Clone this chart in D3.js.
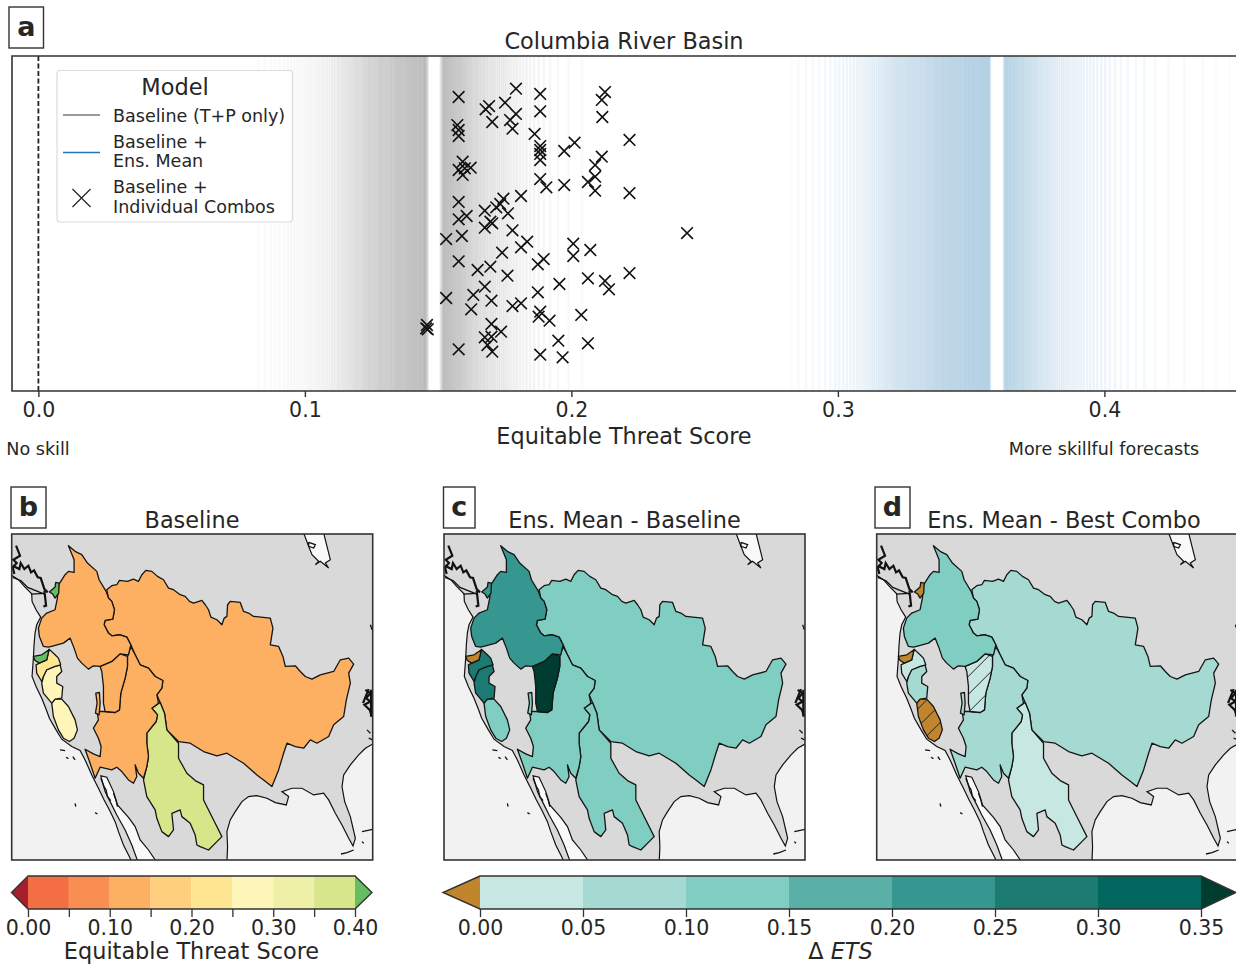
<!DOCTYPE html>
<html>
  <head>
    <meta charset="utf-8">
    <style>
      html, body { margin: 0; padding: 0; background: #fff; overflow: hidden; }
      svg { display: block; }
      text { font-family: "DejaVu Sans", sans-serif; fill: #262626; }
      .axis text { font-family: "DejaVu Sans", sans-serif; fill: #262626; }
    </style>
  </head>
  <body>
    <script src="https://d3js.org/d3.v7.min.js"></script>
    <div id="chart"></div>
    <script>
      // ---- panel a: equitable threat score of each model ----
      var baselineEts = [
        .0826,.0850,.0871,.0889,.0905,.0921,.0936,.0948,.0960,.0971,.0982,.0993,.1003,.1012,.1021,.1029,.1038,.1046,.1053,.1061,
        .1068,.1075,.1082,.1089,.1096,.1102,.1108,.1114,.1120,.1125,.1130,.1136,.1141,.1146,.1151,.1156,.1161,.1165,.1170,.1174,
        .1179,.1183,.1187,.1191,.1195,.1199,.1203,.1207,.1211,.1215,.1219,.1223,.1226,.1230,.1234,.1237,.1241,.1244,.1248,.1251,
        .1255,.1258,.1262,.1265,.1268,.1272,.1275,.1278,.1281,.1284,.1287,.1290,.1293,.1296,.1299,.1302,.1305,.1308,.1311,.1314,
        .1317,.1320,.1323,.1325,.1328,.1331,.1334,.1336,.1339,.1342,.1344,.1347,.1349,.1352,.1354,.1357,.1359,.1362,.1364,.1367,
        .1369,.1372,.1374,.1377,.1379,.1382,.1384,.1386,.1389,.1391,.1393,.1396,.1398,.1400,.1403,.1405,.1407,.1409,.1412,.1414,
        .1416,.1418,.1421,.1423,.1425,.1427,.1430,.1432,.1434,.1436,.1438,.1441,.1443,.1445,.1447,.1449,.1451,.1453,.1455,.1458,.1461,
        .1510,.1513,.1517,.1519,.1521,.1523,.1525,.1527,.1529,.1532,.1534,.1536,.1538,.1541,.1543,.1545,.1548,.1550,.1552,.1555,.1557,.1560,
        .1562,.1565,.1567,.1570,.1573,.1575,.1578,.1581,.1584,.1586,.1589,.1592,.1595,.1598,.1601,.1604,.1607,.1611,.1614,.1617,
        .1621,.1624,.1628,.1632,.1636,.1640,.1644,.1648,.1653,.1657,.1662,.1667,.1672,.1677,.1682,.1688,.1694,.1700,.1706,.1712,
        .1719,.1726,.1733,.1741,.1749,.1757,.1766,.1775,.1785,.1795,.1806,.1818,.1831,.1845,.1860,.1877,.1896,.1920,.1950,.1990,.2040
      ];
      var ensMeanEts = [
        .2825,.2852,.2880,.2905,.2930,.2952,.2972,.2990,.3005,.3020,.3034,.3047,.3060,.3072,.3083,.3093,.3103,.3112,.3120,.3128,
        .3135,.3142,.3149,.3155,.3161,.3167,.3173,.3178,.3183,.3188,.3193,.3198,.3203,.3207,.3212,.3216,.3220,.3224,.3228,.3232,
        .3236,.3240,.3244,.3248,.3252,.3256,.3260,.3264,.3267,.3271,.3275,.3278,.3282,.3286,.3289,.3293,.3296,.3300,.3303,.3307,
        .3310,.3313,.3317,.3320,.3323,.3327,.3330,.3333,.3336,.3339,.3342,.3345,.3348,.3351,.3354,.3357,.3360,.3363,.3366,.3369,
        .3371,.3374,.3377,.3380,.3383,.3385,.3388,.3391,.3393,.3396,.3399,.3401,.3404,.3407,.3409,.3412,.3414,.3417,.3420,.3422,
        .3425,.3427,.3430,.3432,.3435,.3437,.3440,.3442,.3445,.3447,.3450,.3452,.3455,.3457,.3460,.3462,.3464,.3467,.3469,.3472,
        .3474,.3476,.3479,.3481,.3483,.3486,.3488,.3490,.3493,.3495,.3497,.3500,.3502,.3504,.3507,.3509,.3511,.3513,.3516,.3518,
        .3520,.3523,.3525,.3527,.3529,.3532,.3534,.3536,.3538,.3541,.3543,.3545,.3547,.3549,.3552,.3554,.3556,.3558,.3560,.3563,
        .3565,.3567,.3569,.3571,
        .3623,.3625,.3628,.3630,.3632,.3635,.3637,.3640,.3642,.3645,.3647,.3650,.3652,.3655,.3658,.3660,.3663,.3666,.3668,.3671,
        .3674,.3677,.3680,.3683,.3686,.3689,.3692,.3695,.3698,.3701,.3705,.3708,.3711,.3715,.3718,.3722,.3725,.3729,.3733,.3737,
        .3741,.3745,.3749,.3754,.3758,.3763,.3767,.3772,.3777,.3782,.3787,.3792,.3798,.3803,.3809,.3815,.3821,.3828,.3835,.3842,
        .3849,.3857,.3865,.3874,.3883,.3892,.3902,.3912,.3923,.3935,.3947,.3960,.3973,.3988,.4003,.4020,.4040,.4062,.4088,.4118,
        .4150,.4190,.4240,.4300,.4370,.4420,.4470
      ];
      // individual combos: ETS, and the vertical jitter (0 bottom, 1 top)
      var comboEts = [
        .1577,.1792,.1883,.2126,.2114,.1691,.1678,.1751,.1883,.1792,.1770,.1703,.2116,.1572,.1577,.1577,.1779,.1862,.1883,.1883,
        .1883,.1883,.2012,.1973,.2114,.1592,.1577,.1600,.1622,.1592,.2089,.2089,.1883,.1906,.1973,.2062,.2089,.1811,.1745,.1577,
        .1733,.1718,.1675,.1762,.1607,.1577,.1696,.1703,.1675,.1779,.1589,.1530,.1834,.1811,.2007,.2007,.2071,.1896,.1874,.1740,
        .1577,.1648,.1696,.1760,.1955,.2062,.2126,.2141,.1675,.1632,.1530,.1874,.1700,.1624,.1779,.1811,.1883,.1877,.1918,.2037,
        .1458,.1455,.1461,.1700,.1736,.1675,.1700,.1685,.1951,.2062,.1577,.1703,.1883,.1967,.2218,.2218,.2434,.2218
      ];
      var comboJitter = [
        .8776,.9025,.8866,.8925,.8687,.8507,.8408,.8607,.8348,.8269,.8089,.8030,.8179,.7940,.7791,.7612,.7831,.7672,.7313,.7194,
        .7075,.6895,.7413,.7164,.6995,.6846,.6597,.6647,.6667,.6448,.6746,.6398,.6328,.6080,.6149,.6239,.5980,.5821,.5741,.5642,
        .5582,.5483,.5383,.5304,.5224,.5124,.5055,.5005,.4876,.4796,.4627,.4537,.4458,.4289,.4398,.4030,.4209,.3940,.3781,.4129,
        .3871,.3612,.3712,.3443,.3194,.3363,.3284,.3035,.3115,.2866,.2776,.2945,.2697,.2438,.2537,.2617,.2368,.2219,.2100,.2269,
        .1970,.1871,.1841,.2000,.1771,.1602,.1622,.1373,.1503,.1423,.1244,.1174,.1085,.1005,.7493,.5910,.4716,.3522
      ];
      var etsTicks = [0, 0.1, 0.2, 0.3, 0.4];

      // ---- maps: score per basin for the three panels ----
      var basinNames = ["Mississippi", "Rio Grande", "Colorado", "Green", "Columbia", "Puget", "San Joaquin", "Sacramento", "Trinity", "Klamath", "Sevier"];
      var baselineScore = [0.12, 0.37, 0.12, 0.12, 0.12, 0.42, 0.27, 0.27, 0.22, 0.42, 0.12];
      var meanMinusBaseline = [0.12, 0.12, 0.12, 0.37, 0.22, 0.22, 0.12, 0.27, 0.27, -0.02, 0.12];
      var meanMinusBest = [0.07, 0.02, 0.07, 0.02, 0.12, -0.02, -0.02, 0.07, 0.02, -0.02, 0.07];
      var hatchedInBest = ["Green", "San Joaquin"];

      // colour bars
      var etsBreaks = [0, 0.05, 0.1, 0.15, 0.2, 0.25, 0.3, 0.35, 0.4];
      var etsColors = ["#a51f2c", "#f46e43", "#f98e52", "#fdaf62", "#fecf7c", "#fde591", "#fef6b8", "#eef0a8", "#d8e68b", "#66bd63"];
      var etsTickLabels = ["0.00", "0.10", "0.20", "0.30", "0.40"];
      var deltaBreaks = [0, 0.05, 0.1, 0.15, 0.2, 0.25, 0.3, 0.35];
      var deltaColors = ["#c1852d", "#c7e8e2", "#a5dad2", "#80cdc1", "#5aafa7", "#35978f", "#1b7a72", "#01665e", "#003c30"];

      // ---- map shapes, in the traced map units (map frame is 35..1117 by 13..990) ----
      var basinShapes = {
        "Mississippi": [[320,180],[335,168],[350,165],[358,152],[382,155],[400,148],[415,155],[425,135],[437,122],[455,125],[472,140],[490,150],[505,175],[520,180],[540,195],[555,200],[568,215],[580,220],[605,212],[615,225],[625,240],[632,262],[650,270],[665,285],[672,265],[680,260],[682,225],[690,215],[720,218],[730,245],[745,250],[760,260],[810,265],[818,295],[810,345],[835,350],[848,380],[855,410],[885,408],[900,425],[915,440],[935,448],[960,435],[1000,425],[1020,390],[1045,385],[1060,403],[1045,430],[1050,460],[1038,510],[1030,560],[1000,585],[985,620],[950,640],[930,630],[910,655],[885,650],[860,640],[850,670],[835,720],[815,770],[790,750],[770,735],[730,700],[680,670],[650,678],[610,665],[570,640],[535,635],[500,600],[493,550],[480,518],[470,495],[485,475],[488,452],[465,440],[445,415],[420,405],[405,375],[392,345],[380,322],[360,315],[335,318],[325,310],[312,285],[315,272],[338,268],[343,240],[335,215],[325,205]],
        "Rio Grande": [[480,518],[493,550],[500,600],[535,640],[535,685],[560,730],[585,752],[610,765],[610,810],[625,840],[640,870],[665,920],[650,935],[625,960],[600,950],[590,945],[585,915],[570,880],[545,860],[540,840],[515,850],[520,900],[505,920],[485,905],[470,865],[465,840],[440,800],[430,750],[440,710],[445,680],[440,640],[440,610],[468,575],[472,555],[455,535]],
        "Colorado": [[392,350],[405,375],[420,405],[445,415],[465,440],[488,452],[485,475],[470,495],[475,520],[455,535],[472,555],[468,575],[440,610],[440,640],[445,680],[440,710],[430,745],[415,730],[405,705],[410,740],[400,760],[385,750],[365,725],[350,712],[335,720],[300,712],[285,745],[270,700],[255,658],[280,672],[300,680],[303,650],[295,625],[280,595],[295,570],[290,540],[300,545],[315,545],[345,548],[358,540],[362,490],[375,445],[382,410],[382,380]],
        "Green": [[300,410],[335,395],[360,372],[382,380],[382,410],[375,445],[362,490],[358,540],[345,548],[315,545],[310,520],[310,470],[305,425]],
        "Columbia": [[205,48],[225,65],[245,75],[262,100],[290,125],[297,150],[318,185],[325,205],[335,215],[343,240],[338,268],[315,272],[312,285],[325,310],[335,318],[360,315],[380,322],[392,345],[385,375],[360,372],[335,395],[300,410],[280,408],[265,418],[245,400],[232,385],[222,355],[210,325],[190,340],[160,348],[145,352],[130,350],[118,320],[115,295],[125,265],[140,250],[165,240],[172,205],[176,165],[195,135],[205,125],[222,128],[222,90]],
        "Puget": [[148,187],[165,172],[167,158],[177,160],[176,190],[165,205],[158,193]],
        "San Joaquin": [[155,520],[165,508],[185,508],[205,530],[225,570],[232,600],[222,625],[208,635],[190,625],[175,600],[160,560]],
        "Sacramento": [[130,440],[140,418],[165,410],[180,405],[185,425],[170,440],[170,460],[188,470],[185,505],[165,508],[155,520],[130,490],[125,460]],
        "Trinity": [[147,358],[165,375],[175,385],[182,405],[165,410],[140,420],[130,440],[125,455],[110,430],[108,405],[118,400],[140,390]],
        "Klamath": [[100,380],[125,375],[147,360],[140,390],[118,400],[105,392]],
        "Sevier": [[287,490],[298,488],[300,520],[297,555],[286,550],[291,520]]
      };
      var oceanShapes = [
        [[20,135],[35,137],[55,150],[75,172],[95,192],[96,215],[108,240],[122,262],[110,285],[105,310],[102,345],[100,385],[96,440],[108,470],[125,505],[137,535],[148,565],[168,600],[185,628],[215,650],[240,662],[255,690],[275,735],[295,775],[312,810],[328,840],[345,875],[355,905],[370,945],[390,985],[395,1000],[20,1000]],
        [[680,1000],[682,950],[680,905],[690,870],[705,845],[725,815],[745,800],[770,797],[800,805],[825,818],[858,825],[865,800],[845,785],[875,775],[905,775],[940,795],[970,790],[985,810],[1005,850],[1025,885],[1045,925],[1058,948],[1065,925],[1050,860],[1033,815],[1025,770],[1030,735],[1050,705],[1075,675],[1095,655],[1125,638],[1125,1000]]
      ];
      var lakeShapes = [
        [[302,738],[320,742],[340,785],[352,825],[385,862],[405,890],[420,930],[445,960],[472,1000],[415,1000],[395,945],[375,900],[350,855],[330,815],[315,785]],
        [[910,10],[970,10],[980,50],[990,90],[975,100],[985,115],[960,95],[945,105],[955,95],[935,75],[925,50]]
      ];
      var coastDetails = [
        [[38,143],[63,153],[83,173],[133,193]],[[93,193],[133,191]],
        [[925,38],[945,45],[940,55],[925,50],[925,38]],
        [[1110,285],[1115,300]],[[1100,600],[1110,610]],[[1105,625],[1117,630]],
        [[180,660],[195,662]],[[198,682],[205,686]],[[218,680],[225,690]],[[225,820],[227,830]],[[285,848],[292,852]],
        [[1022,972],[1040,968],[1060,960]],[[1085,905],[1117,898]],[[1085,935],[1090,940]],
        [[302,745],[312,770],[318,780],[322,800],[332,812]],[[340,790],[348,812],[352,830]]
      ];
      var fjordDetails = [
        [[48,48],[60,78],[40,90],[50,100],[38,113],[43,133]],
        [[38,108],[58,118],[62,100],[73,118],[85,108],[93,128],[102,122],[113,143],[122,145],[133,178],[143,188]],
        [[133,183],[138,228],[130,230]],
        [[1095,480],[1110,490],[1097,505],[1110,515],[1092,525],[1108,540],[1115,560]],
        [[1088,520],[1105,478]],[[1112,480],[1112,560]]
      ];

      // ---- page ----
      var svg = d3.select("#chart").append("svg").attr("width", 1236).attr("height", 964);
      var defs = svg.append("defs");

      // ---- panel a ----
      var plotLeft = 12, plotTop = 56, plotBottom = 391, plotRight = 1236;
      var x = d3.scaleLinear().domain([0, 0.4]).range([38.4, 1104.4]);
      var y = d3.scaleLinear().domain([0, 1]).range([plotBottom, plotBottom - 335]);
      // the tails of each spread fade out
      var baseFade = d3.scaleLinear().domain([.0825, .105, .125, .175, .19, .205]).range([.025, .05, .1, .1, .05, .025]);
      var ensFade = d3.scaleLinear().domain([.2825, .30, .31, .39, .41, .45]).range([.025, .06, .09, .09, .05, .02]);

      defs.append("clipPath").attr("id", "plotClip").append("rect")
        .attr("x", plotLeft).attr("y", plotTop).attr("width", plotRight - plotLeft).attr("height", plotBottom - plotTop);
      var plot = svg.append("g").attr("clip-path", "url(#plotClip)");

      plot.selectAll(".base").data(baselineEts).enter().append("line").attr("class", "base")
        .attr("x1", x).attr("x2", x).attr("y1", plotTop).attr("y2", plotBottom)
        .attr("stroke", "#555").attr("stroke-width", 2.5).attr("stroke-opacity", baseFade);
      plot.selectAll(".ens").data(ensMeanEts).enter().append("line").attr("class", "ens")
        .attr("x1", x).attr("x2", x).attr("y1", plotTop).attr("y2", plotBottom)
        .attr("stroke", "#1f77b4").attr("stroke-width", 2.5).attr("stroke-opacity", ensFade);

      plot.append("line").attr("x1", x(0)).attr("x2", x(0)).attr("y1", plotTop).attr("y2", plotBottom)
        .attr("stroke", "#222").attr("stroke-width", 1.8).attr("stroke-dasharray", "5,2.5");

      var cross = d3.symbol().type(d3.symbolTimes).size(90);
      plot.selectAll(".combo").data(comboEts).enter().append("path").attr("class", "combo")
        .attr("d", cross)
        .attr("transform", function(d, i) { return "translate(" + x(d) + "," + y(comboJitter[i]) + ")"; })
        .attr("fill", "none").attr("stroke", "#111").attr("stroke-width", 1.6);

      // frame, no right side since the panel runs off the page
      svg.append("path").attr("d", "M" + plotRight + "," + plotTop + "H" + plotLeft + "V" + plotBottom + "H" + plotRight)
        .attr("fill", "none").attr("stroke", "#333").attr("stroke-width", 1.6);

      var xAxis = d3.axisBottom(x).tickValues(etsTicks).tickFormat(d3.format(".1f")).tickSize(6).tickPadding(5);
      var xg = svg.append("g").attr("class", "axis").attr("transform", "translate(0," + plotBottom + ")").call(xAxis);
      xg.select(".domain").remove();
      xg.selectAll("line").attr("stroke", "#333").attr("stroke-width", 1.4);
      xg.selectAll("text").style("font-size", "20.5px");

      svg.append("text").attr("x", 624).attr("y", 48.5).attr("text-anchor", "middle").style("font-size", "22.4px").text("Columbia River Basin");
      svg.append("text").attr("x", 624).attr("y", 444).attr("text-anchor", "middle").style("font-size", "22.4px").text("Equitable Threat Score");
      svg.append("text").attr("x", 38).attr("y", 455).attr("text-anchor", "middle").style("font-size", "17.6px").text("No skill");
      svg.append("text").attr("x", 1104).attr("y", 455).attr("text-anchor", "middle").style("font-size", "17.5px").text("More skillful forecasts");

      // legend
      var legend = svg.append("g");
      legend.append("rect").attr("x", 57).attr("y", 70.5).attr("width", 235.5).attr("height", 151.5).attr("rx", 3)
        .attr("fill", "#fff").attr("stroke", "#dcdcdc").attr("stroke-width", 1.2);
      legend.append("text").attr("x", 175).attr("y", 95).attr("text-anchor", "middle").style("font-size", "22.5px").text("Model");
      legend.append("line").attr("x1", 63).attr("x2", 100).attr("y1", 115).attr("y2", 115).attr("stroke", "#777").attr("stroke-width", 1.6);
      legend.append("line").attr("x1", 63).attr("x2", 100).attr("y1", 152.5).attr("y2", 152.5).attr("stroke", "#1f77b4").attr("stroke-width", 1.6);
      legend.append("path").attr("d", d3.symbol().type(d3.symbolTimes).size(215))
        .attr("transform", "translate(81.5,198)").attr("fill", "none").attr("stroke", "#222").attr("stroke-width", 1.2);
      var legendLines = [["Baseline (T+P only)", 122], ["Baseline +", 147.5], ["Ens. Mean", 167], ["Baseline +", 192.5], ["Individual Combos", 212.5]];
      legend.selectAll(".entry").data(legendLines).enter().append("text").attr("class", "entry")
        .attr("x", 113).attr("y", function(d) { return d[1]; })
        .style("font-size", "17.55px").text(function(d) { return d[0]; });

      // ---- map panels ----
      var mapW = 361, mapH = 326, mapTop = 534;
      var mapX = d3.scaleLinear().domain([35, 1117]).range([0, mapW]);
      var mapY = d3.scaleLinear().domain([13, 990]).range([0, mapH]);
      var shapeLine = d3.line().x(function(d) { return mapX(d[0]); }).y(function(d) { return mapY(d[1]); });
      var closedShape = function(d) { return shapeLine(d) + "Z"; };

      var etsColor = d3.scaleThreshold().domain(etsBreaks).range(etsColors);
      var deltaColor = d3.scaleThreshold().domain(deltaBreaks).range(deltaColors);

      function hatchFor(color) {
        var id = "hatch" + color.replace("#", "");
        var p = defs.append("pattern").attr("id", id).attr("patternUnits", "userSpaceOnUse").attr("width", 18).attr("height", 18);
        p.append("rect").attr("width", 18).attr("height", 18).attr("fill", color);
        p.append("path").attr("d", "M-2,2L2,-2M0,18L18,0M16,20L20,16").attr("stroke", "#222").attr("stroke-width", 1);
        return "url(#" + id + ")";
      }

      function drawMap(left, scores, colorScale, hatched, clipId) {
        defs.append("clipPath").attr("id", clipId).append("rect").attr("width", mapW).attr("height", mapH);
        var panel = svg.append("g").attr("transform", "translate(" + left + "," + mapTop + ")");
        var inner = panel.append("g").attr("clip-path", "url(#" + clipId + ")");
        inner.append("rect").attr("width", mapW).attr("height", mapH).attr("fill", "#d9d9d9");
        inner.selectAll(".ocean").data(oceanShapes).enter().append("path").attr("class", "ocean")
          .attr("d", closedShape).attr("fill", "#f2f2f2").attr("stroke", "#111").attr("stroke-width", 1.2);
        inner.selectAll(".lake").data(lakeShapes).enter().append("path").attr("class", "lake")
          .attr("d", closedShape).attr("fill", "#f9f9f9").attr("stroke", "#111").attr("stroke-width", 1.2);
        inner.selectAll(".detail").data(coastDetails).enter().append("path").attr("class", "detail")
          .attr("d", shapeLine).attr("fill", "none").attr("stroke", "#111").attr("stroke-width", 1.3);
        inner.selectAll(".fjord").data(fjordDetails).enter().append("path").attr("class", "fjord")
          .attr("d", shapeLine).attr("fill", "none").attr("stroke", "#111").attr("stroke-width", 2.2);
        inner.selectAll(".basin").data(basinNames).enter().append("path").attr("class", "basin")
          .attr("d", function(name) { return closedShape(basinShapes[name]); })
          .attr("fill", function(name, i) {
            var c = colorScale(scores[i]);
            return hatched.indexOf(name) >= 0 ? hatchFor(c) : c;
          })
          .attr("stroke", "#151515").attr("stroke-width", 1.3).attr("stroke-linejoin", "round");
        panel.append("rect").attr("width", mapW).attr("height", mapH).attr("fill", "none").attr("stroke", "#333").attr("stroke-width", 1.6);
      }

      drawMap(11.7, baselineScore, etsColor, [], "clipB");
      drawMap(444, meanMinusBaseline, deltaColor, [], "clipC");
      drawMap(876.7, meanMinusBest, deltaColor, hatchedInBest, "clipD");

      svg.append("text").attr("x", 192).attr("y", 528).attr("text-anchor", "middle").style("font-size", "22.4px").text("Baseline");
      svg.append("text").attr("x", 624.5).attr("y", 528).attr("text-anchor", "middle").style("font-size", "22.4px").text("Ens. Mean - Baseline");
      svg.append("text").attr("x", 1064).attr("y", 528).attr("text-anchor", "middle").style("font-size", "22.4px").text("Ens. Mean - Best Combo");

      // panel letters
      var letterBoxes = [["a", 9, 7, 34.5, 41], ["b", 11, 487, 35, 41], ["c", 443.5, 487, 31.5, 41], ["d", 875, 487, 35, 41]];
      letterBoxes.forEach(function(b) {
        svg.append("rect").attr("x", b[1]).attr("y", b[2]).attr("width", b[3]).attr("height", b[4])
          .attr("fill", "#fff").attr("stroke", "#333").attr("stroke-width", 1.4);
        svg.append("text").attr("x", b[1] + b[3] / 2).attr("y", b[2] + 28.5).attr("text-anchor", "middle")
          .style("font-size", "27px").style("font-weight", "bold").text(b[0]);
      });

      // ---- colour bars ----
      function drawColorBar(left, right, leftTip, rightTip, breaks, colors, tickValues, tickLabels, label, labelItalic) {
        var top = 876, bottom = 909, mid = (top + bottom) / 2;
        var s = d3.scaleLinear().domain([breaks[0], breaks[breaks.length - 1]]).range([left, right]);
        var g = svg.append("g");
        breaks.slice(0, -1).forEach(function(b, i) {
          g.append("rect").attr("x", s(b)).attr("y", top).attr("width", s(breaks[i + 1]) - s(b)).attr("height", bottom - top).attr("fill", colors[i + 1]);
        });
        g.append("path").attr("d", "M" + left + "," + top + "L" + leftTip + "," + mid + "L" + left + "," + bottom + "Z").attr("fill", colors[0]);
        g.append("path").attr("d", "M" + right + "," + top + "L" + rightTip + "," + mid + "L" + right + "," + bottom + "Z").attr("fill", colors[colors.length - 1]);
        g.append("path").attr("d", "M" + left + "," + top + "L" + leftTip + "," + mid + "L" + left + "," + bottom + "H" + right + "L" + rightTip + "," + mid + "L" + right + "," + top + "Z")
          .attr("fill", "none").attr("stroke", "#333").attr("stroke-width", 1.4);

        var axis = d3.axisBottom(s).tickValues(breaks).tickSize(8).tickPadding(3.5)
          .tickFormat(function(d) {
            var i = tickValues.findIndex(function(v) { return Math.abs(v - d) < 1e-6; });
            return i >= 0 ? tickLabels[i] : "";
          });
        var ag = svg.append("g").attr("class", "axis").attr("transform", "translate(0," + bottom + ")").call(axis);
        ag.select(".domain").remove();
        ag.selectAll("line").attr("stroke", "#333").attr("stroke-width", 1.3);
        ag.selectAll("text").style("font-size", "20.5px");

        var t = svg.append("text").attr("x", (left + right) / 2).attr("y", 959).attr("text-anchor", "middle").style("font-size", "22.4px");
        if (labelItalic) {
          t.append("tspan").text("\u0394 ");
          t.append("tspan").style("font-style", "italic").text(label);
        } else {
          t.text(label);
        }
      }

      drawColorBar(28, 355, 11.5, 372, etsBreaks, etsColors, [0, 0.1, 0.2, 0.3, 0.4], etsTickLabels, "Equitable Threat Score", false);
      drawColorBar(480, 1201, 443, 1236, deltaBreaks, deltaColors, deltaBreaks, deltaBreaks.map(d3.format(".2f")), "ETS", true);
    </script>
  </body>
</html>
